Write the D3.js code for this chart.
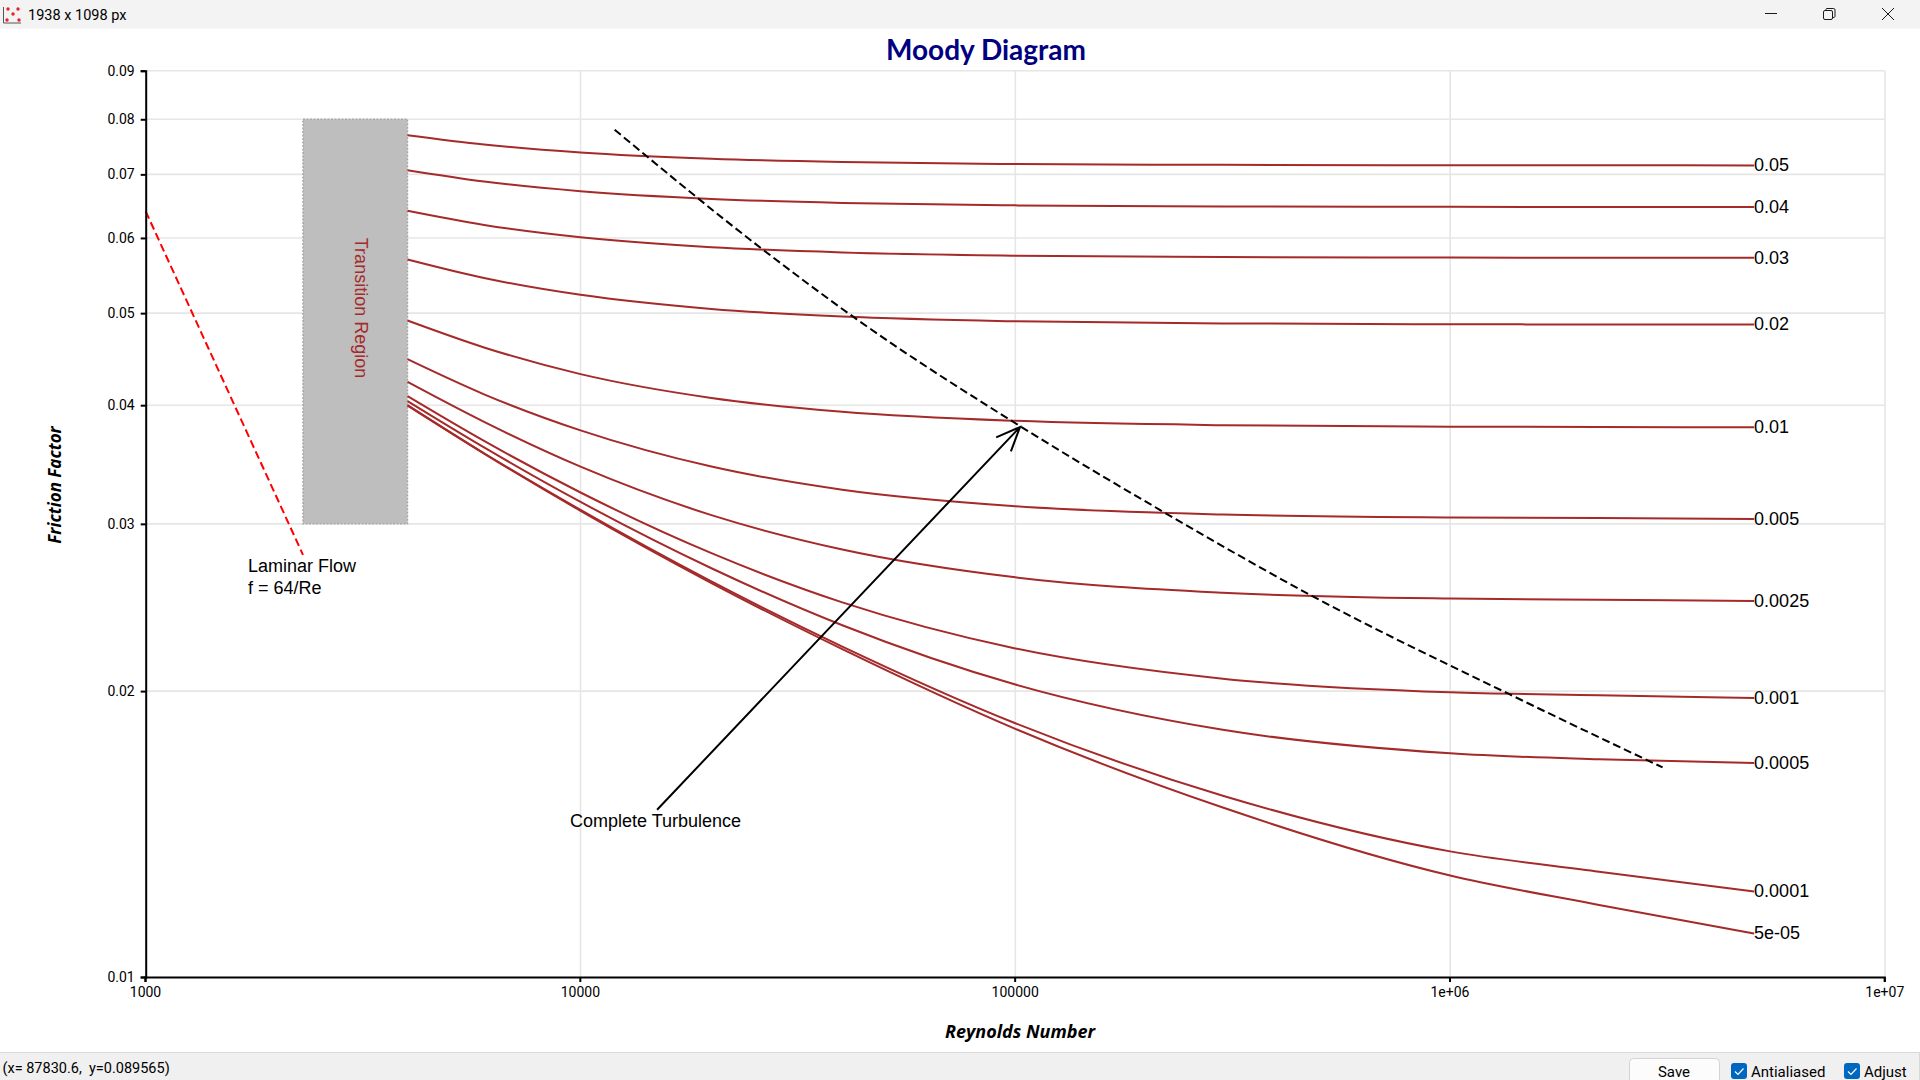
<!DOCTYPE html>
<html>
<head>
<meta charset="utf-8">
<title>Moody Diagram</title>
<script src="https://cdn.jsdelivr.net/npm/d3@7"></script>
<style>
  html, body { margin: 0; padding: 0; background: #fff; }
  svg { display: block; }
  text { fill: #000; }
  .tick-label { font-family: Roboto, "Open Sans", sans-serif; font-size: 14px; }
  .chrome { font-family: Roboto, "Open Sans", sans-serif; font-size: 14.5px; white-space: pre; }
  .note { font-family: "Liberation Sans", Arial, sans-serif; font-size: 18px; }
  .axis-title { font-family: "Open Sans", sans-serif; font-weight: 700; font-style: italic; }
</style>
</head>
<body>
<svg id="chart" width="1920" height="1080"></svg>
<script>
const WIDTH = 1920;
const HEIGHT = 1080;

// x sampling of every roughness curve
const reynolds = [4000, 6000, 10000, 20000, 40000, 100000, 300000, 1000000, 2200000, 5000000];

// friction factor, one list per relative roughness
const f_05 = [0.07698, 0.07526, 0.0738, 0.07269, 0.07212, 0.07178, 0.07163, 0.07156, 0.07155, 0.07154];
const f_04 = [0.0707, 0.06879, 0.0672, 0.06596, 0.06532, 0.06493, 0.06476, 0.0647, 0.06469, 0.06468];
const f_03 = [0.06408, 0.06192, 0.0601, 0.05867, 0.05793, 0.05748, 0.05728, 0.05721, 0.05719, 0.05718];
const f_02 = [0.05695, 0.05445, 0.05227, 0.05051, 0.04959, 0.04902, 0.04877, 0.04867, 0.04865, 0.04864];
const f_01 = [0.04911, 0.04601, 0.04313, 0.04071, 0.03937, 0.03851, 0.03811, 0.03797, 0.03794, 0.03792];
const f_005 = [0.04472, 0.04107, 0.03763, 0.03447, 0.03259, 0.03131, 0.03069, 0.03047, 0.03042, 0.03036];
const f_0025 = [0.04232, 0.03841, 0.03446, 0.03064, 0.02819, 0.02635, 0.02539, 0.02503, 0.02496, 0.02488];
const f_001 = [0.04089, 0.03668, 0.03237, 0.02794, 0.0248, 0.02218, 0.02061, 0.01994, 0.0198, 0.01967];
const f_0005 = [0.0404, 0.03611, 0.03164, 0.02694, 0.02346, 0.02032, 0.01821, 0.0172, 0.01695, 0.0168];
const f_0001 = [0.04001, 0.0356, 0.03103, 0.02609, 0.02228, 0.0185, 0.01552, 0.01356, 0.01291, 0.0123];
const f_00005 = [0.03996, 0.03557, 0.03096, 0.02599, 0.02214, 0.01825, 0.01508, 0.01279, 0.01191, 0.01111];

const curves = [f_05, f_04, f_03, f_02, f_01, f_005, f_0025, f_001, f_0005, f_0001, f_00005];
const curveLabels = ["0.05", "0.04", "0.03", "0.02", "0.01", "0.005", "0.0025", "0.001", "0.0005", "0.0001", "5e-05"];

// complete turbulence boundary
const turbRe = [11980, 26060, 43210, 102350, 218500, 482000, 1368000, 3080000];
const turbF = [0.078, 0.05849, 0.04925, 0.03804, 0.0309, 0.02518, 0.01985, 0.01662];

const laminarRe = [1000, 2300];
const laminarF = [0.064, 0.02783];

const transitionRe = [2300, 4000];
const transitionF = [0.03, 0.08];

const arrowFrom = [15000, 0.015];
const arrowTo = [102500, 0.03794];

const xTicks = [1000, 10000, 100000, 1000000, 10000000];
const xTickLabels = ["1000", "10000", "100000", "1e+06", "1e+07"];
const yTicks = [0.01, 0.02, 0.03, 0.04, 0.05, 0.06, 0.07, 0.08, 0.09];
const yTickLabels = ["0.01", "0.02", "0.03", "0.04", "0.05", "0.06", "0.07", "0.08", "0.09"];

const plotLeft = 145.7;
const plotRight = 1885;
const plotTop = 70.7;
const plotBottom = 977;

const x = d3.scaleLog().domain([1000, 10000000]).range([plotLeft, plotRight]);
const y = d3.scaleLog().domain([0.01, 0.09]).range([plotBottom, plotTop]);

const svg = d3.select("#chart");

const line = d3.line()
  .x((d) => x(d[0]))
  .y((d) => y(d[1]))
  .curve(d3.curveMonotoneX);

// grid
const grid = svg.append("g").attr("stroke", "#e6e6e6").attr("stroke-width", 1.6);
grid.selectAll("line.h")
  .data(yTicks.slice(1))
  .join("line")
  .attr("class", "h")
  .attr("x1", plotLeft)
  .attr("x2", plotRight)
  .attr("y1", (d) => y(d))
  .attr("y2", (d) => y(d));
grid.selectAll("line.v")
  .data(xTicks.slice(1))
  .join("line")
  .attr("class", "v")
  .attr("x1", (d) => x(d))
  .attr("x2", (d) => x(d))
  .attr("y1", plotTop)
  .attr("y2", plotBottom);

// transition region
svg.append("rect")
  .attr("x", x(transitionRe[0]))
  .attr("y", y(transitionF[1]))
  .attr("width", x(transitionRe[1]) - x(transitionRe[0]))
  .attr("height", y(transitionF[0]) - y(transitionF[1]))
  .attr("fill", "#bebebe")
  .attr("stroke", "#a9a9a9")
  .attr("stroke-width", 1.5)
  .attr("stroke-dasharray", "2,1.5");

svg.append("text")
  .attr("class", "note")
  .attr("transform", `translate(${(x(transitionRe[0]) + x(transitionRe[1])) / 2 - 0.5},308) rotate(90)`)
  .attr("text-anchor", "middle")
  .style("fill", "#a52a2a")
  .text("Transition Region");

// roughness curves
svg.append("g")
  .attr("fill", "none")
  .attr("stroke", "#a52a2a")
  .attr("stroke-width", 2)
  .selectAll("path")
  .data(curves)
  .join("path")
  .attr("d", (c) => line(c.map((f, i) => [reynolds[i], f])));

svg.append("g")
  .attr("class", "note")
  .selectAll("text")
  .data(curves)
  .join("text")
  .attr("x", x(reynolds[reynolds.length - 1]))
  .attr("y", (c) => y(c[c.length - 1]))
  .attr("dy", "0.32em")
  .text((c, i) => curveLabels[i]);

// dashed boundaries
svg.append("path")
  .attr("d", line(turbRe.map((r, i) => [r, turbF[i]])))
  .attr("fill", "none")
  .attr("stroke", "#000")
  .attr("stroke-width", 2)
  .attr("stroke-dasharray", "8,4");

svg.append("path")
  .attr("d", d3.line().x((d) => x(d[0])).y((d) => y(d[1])).curve(d3.curveLinear)(laminarRe.map((r, i) => [r, laminarF[i]])))
  .attr("fill", "none")
  .attr("stroke", "#ff0000")
  .attr("stroke-width", 2)
  .attr("stroke-dasharray", "8,4");

// arrow
const ax0 = x(arrowFrom[0]);
const ay0 = y(arrowFrom[1]);
const ax1 = x(arrowTo[0]);
const ay1 = y(arrowTo[1]);
const back = Math.atan2(ay0 - ay1, ax0 - ax1);
const barb = 26;
const spread = (23 * Math.PI) / 180;
const arrow = d3.path();
arrow.moveTo(ax0, ay0);
arrow.lineTo(ax1, ay1);
arrow.moveTo(ax1 + barb * Math.cos(back - spread), ay1 + barb * Math.sin(back - spread));
arrow.lineTo(ax1, ay1);
arrow.lineTo(ax1 + barb * Math.cos(back + spread), ay1 + barb * Math.sin(back + spread));
svg.append("path")
  .attr("d", arrow.toString())
  .attr("fill", "none")
  .attr("stroke", "#000")
  .attr("stroke-width", 2);

// annotations
svg.append("text").attr("class", "note").attr("x", ax0 - 1.5).attr("y", 826.5).attr("text-anchor", "middle").text("Complete Turbulence");
svg.append("text").attr("class", "note").attr("x", 248).attr("y", 572).text("Laminar Flow");
svg.append("text").attr("class", "note").attr("x", 248).attr("y", 594).text("f = 64/Re");

// axes
const xAxis = d3.axisBottom(x)
  .tickValues(xTicks)
  .tickFormat((d, i) => xTickLabels[i])
  .tickSize(5)
  .tickPadding(5);
const yAxis = d3.axisLeft(y)
  .tickValues(yTicks)
  .tickFormat((d, i) => yTickLabels[i])
  .tickSize(5)
  .tickPadding(6);

function styleAxis(g) {
  g.attr("font-family", null).attr("font-size", null);
  g.selectAll("path.domain").attr("stroke", "#000").attr("stroke-width", 2);
  g.selectAll(".tick line").attr("stroke", "#000").attr("stroke-width", 2);
  g.selectAll(".tick text").attr("class", "tick-label");
}

svg.append("g").attr("transform", `translate(-0.7,${plotBottom})`).call(xAxis).call(styleAxis);
svg.append("g").attr("transform", `translate(${plotLeft},0)`).call(yAxis).call(styleAxis);

// titles
svg.append("text")
  .attr("x", 986)
  .attr("y", 60)
  .attr("text-anchor", "middle")
  .style("font-family", "'Comic Sans MS', Lato, sans-serif")
  .style("font-size", "28px")
  .style("font-weight", 700)
  .style("fill", "#000080")
  .text("Moody Diagram");

svg.append("text")
  .attr("class", "axis-title")
  .attr("x", 1020)
  .attr("y", 1038)
  .attr("text-anchor", "middle")
  .style("font-size", "18px")
  .text("Reynolds Number");

svg.append("text")
  .attr("class", "axis-title")
  .attr("transform", "translate(60.5,485) rotate(-90)")
  .attr("text-anchor", "middle")
  .style("font-size", "17px")
  .text("Friction Factor");

// window title bar
const titleBar = svg.append("g");
titleBar.append("rect").attr("width", WIDTH).attr("height", 28.5).attr("fill", "#f3f3f3");
titleBar.append("text").attr("class", "chrome").attr("x", 28).attr("y", 20).text("1938 x 1098 px");
const icon = titleBar.append("g");
icon.append("path").attr("d", "M3.5 7V23H21").attr("fill", "none").attr("stroke", "#555").attr("stroke-width", 1);
[[8, 9], [18, 9], [13, 14], [7, 20], [19, 20]].forEach((p) => {
  icon.append("circle").attr("cx", p[0]).attr("cy", p[1]).attr("r", 1.7).attr("fill", "#e8202a");
});
const btn = titleBar.append("g").attr("fill", "none").attr("stroke", "#1a1a1a").attr("stroke-width", 1);
btn.append("path").attr("d", "M1765 13.5H1777");
btn.append("rect").attr("x", 1823.5).attr("y", 10.5).attr("width", 9).attr("height", 9).attr("rx", 1.5);
btn.append("path").attr("d", "M1826 10.5V9.5Q1826 8.5 1827 8.5H1833.5Q1835 8.5 1835 10V16.5Q1835 17.5 1833 17.5");
btn.append("path").attr("d", "M1882 8L1894 20M1894 8L1882 20");

// status bar
const statusBar = svg.append("g");
statusBar.append("rect").attr("y", 1052).attr("width", WIDTH).attr("height", 28).attr("fill", "#f0f0f0");
statusBar.append("line").attr("x1", 0).attr("x2", WIDTH).attr("y1", 1052.5).attr("y2", 1052.5).attr("stroke", "#d9d9d9");
statusBar.append("text").attr("class", "chrome").attr("x", 2.5).attr("y", 1073).text("(x= 87830.6,  y=0.089565)");
statusBar.append("rect").attr("x", 1629.5).attr("y", 1058.5).attr("width", 90).attr("height", 26).attr("rx", 4).attr("fill", "#fcfcfc").attr("stroke", "#d3d3d3");
statusBar.append("text").attr("class", "chrome").attr("x", 1674).attr("y", 1077).attr("text-anchor", "middle").style("font-size", "15px").text("Save");
[[1731, "Antialiased"], [1844, "Adjust"]].forEach((c) => {
  statusBar.append("rect").attr("x", c[0]).attr("y", 1063).attr("width", 16).attr("height", 16).attr("rx", 3).attr("fill", "#0067c0");
  statusBar.append("path").attr("d", `M${c[0] + 4} 1071.5l3 3l5.5 -6`).attr("fill", "none").attr("stroke", "#fff").attr("stroke-width", 1.2);
  statusBar.append("text").attr("class", "chrome").attr("x", c[0] + 20).attr("y", 1077).style("font-size", "15px").text(c[1]);
});
statusBar.append("line").attr("x1", 1919.5).attr("x2", 1919.5).attr("y1", 1053).attr("y2", 1080).attr("stroke", "#d9d9d9");
</script>
</body>
</html>
